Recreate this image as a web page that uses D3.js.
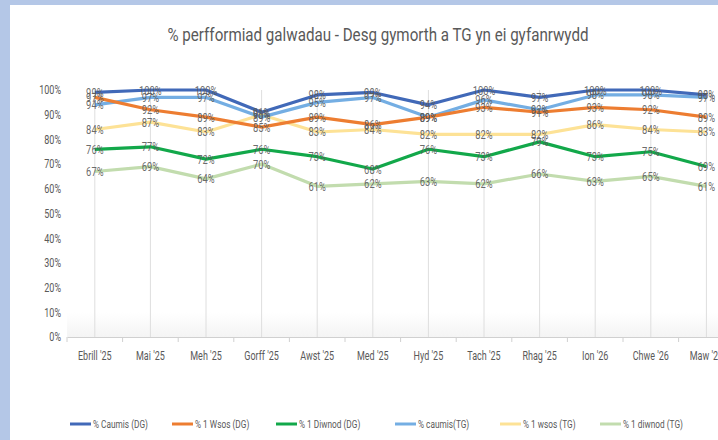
<!DOCTYPE html>
<html>
<head>
<meta charset="utf-8">
<script src="https://cdn.jsdelivr.net/npm/d3@7"></script>
<style>
  body { margin: 0; background: #fff; }
  svg text { font-family: Roboto, "Liberation Sans Narrow", sans-serif; }
</style>
</head>
<body>
<div id="chart"></div>
<script>
// data
var months = ["Ebrill '25", "Mai '25", "Meh '25", "Gorff '25", "Awst '25", "Med '25",
  "Hyd '25", "Tach '25", "Rhag '25", "Ion '26", "Chwe '26", "Maw '26"];
var seriesNames = ["% Caumis (DG)", "% 1 Wsos (DG)", "% 1 Diwnod (DG)",
  "% caumis(TG)", "% 1 wsos (TG)", "% 1 diwnod (TG)"];
var caumisDG  = [99, 100, 100, 91, 98, 99, 94, 100, 97, 100, 100, 98];
var wsosDG    = [97, 92, 89, 85, 89, 86, 89, 93, 91, 93, 92, 89];
var diwnodDG  = [76, 77, 72, 76, 73, 68, 76, 73, 79, 73, 75, 69];
var caumisTG  = [94, 97, 97, 89, 95, 97, 89, 96, 92, 98, 98, 97];
var wsosTG    = [84, 87, 83, 90, 83, 84, 82, 82, 82, 86, 84, 83];
var diwnodTG  = [67, 69, 64, 70, 61, 62, 63, 62, 66, 63, 65, 61];
var yTicks = [0, 10, 20, 30, 40, 50, 60, 70, 80, 90, 100];

var colors = ["#4169b8", "#ed7d31", "#12a84a", "#74aee3", "#fde296", "#c2dcae"];
var seriesVals = [caumisDG, wsosDG, diwnodDG, caumisTG, wsosTG, diwnodTG];
// draw light series first, then DG ones on top
var drawOrder = [5, 4, 3, 2, 1, 0];

var width = 718, height = 440;
var svg = d3.select("#chart").append("svg")
  .attr("width", width).attr("height", height);

// outer frame
svg.append("rect").attr("x", 0).attr("y", 0).attr("width", width).attr("height", height).attr("fill", "#b4c7e7");
svg.append("rect").attr("x", 10).attr("y", 5).attr("width", width - 10).attr("height", height - 5).attr("fill", "#fff");

var x = d3.scaleBand().domain(months).range([67, 67 + 12 * 55.6]);
var cx = function(m) { return x(m) + x.bandwidth() / 2; };
var y = d3.scaleLinear().domain([0, 100]).range([337, 90]);

// title
svg.append("text")
  .attr("x", 378).attr("y", 41)
  .attr("text-anchor", "middle")
  .attr("font-size", 18)
  .attr("fill", "#595959")
  .attr("textLength", 421)
  .attr("lengthAdjust", "spacingAndGlyphs")
  .text("% perfformiad galwadau - Desg gymorth a TG yn ei gyfanrwydd");

// plot background fade
var defs = svg.append("defs");
var grad = defs.append("linearGradient").attr("id", "bg").attr("x1", 0).attr("y1", 0).attr("x2", 0).attr("y2", 1);
grad.append("stop").attr("offset", "0.9").attr("stop-color", "#ffffff");
grad.append("stop").attr("offset", "1").attr("stop-color", "#f4f4f4");
svg.append("rect").attr("x", 67).attr("y", 90).attr("width", width - 67).attr("height", 247).attr("fill", "url(#bg)");

// vertical gridlines
svg.append("g").selectAll("line").data(months).enter().append("line")
  .attr("x1", function(d) { return cx(d); }).attr("x2", function(d) { return cx(d); })
  .attr("y1", y(100)).attr("y2", y(0))
  .attr("stroke", "#dedede").attr("stroke-width", 1);

// x axis
var xAxis = svg.append("g").attr("transform", "translate(0," + y(0) + ")")
  .call(d3.axisBottom(x).tickSize(0).tickPadding(14));
xAxis.select(".domain").attr("stroke", "#d0d0d0");
xAxis.selectAll("text").attr("font-size", 12.5).attr("fill", "#595959")
  .attr("transform", "scale(0.72,1)");
svg.append("g").selectAll("line").data(months).enter().append("line")
  .attr("x1", function(d) { return x(d); }).attr("x2", function(d) { return x(d); })
  .attr("y1", y(0)).attr("y2", y(0) + 5)
  .attr("stroke", "#d0d0d0");

// y axis
var yAxis = svg.append("g").attr("transform", "translate(67,0)")
  .call(d3.axisLeft(y).tickValues(yTicks).tickSize(0).tickPadding(6)
    .tickFormat(function(d) { return d + "%"; }));
yAxis.select(".domain").remove();
yAxis.selectAll("text").attr("font-size", 12).attr("fill", "#595959")
  .attr("transform", "translate(-6,0) scale(0.75,1)").attr("x", 0);

// lines
var line = d3.line()
  .x(function(d, i) { return cx(months[i]); })
  .y(function(d) { return y(d); });

drawOrder.forEach(function(s) {
  svg.append("path")
    .datum(seriesVals[s])
    .attr("d", line)
    .attr("fill", "none")
    .attr("stroke", colors[s])
    .attr("stroke-width", 3.2)
    .attr("stroke-linejoin", "round");
});

// data labels
drawOrder.forEach(function(s) {
  svg.append("g").selectAll("text").data(seriesVals[s]).enter().append("text")
    .attr("transform", function(d, i) { return "translate(" + cx(months[i]) + "," + (y(d) + 4.5) + ") scale(0.72,1)"; })
    .attr("text-anchor", "middle")
    .attr("font-size", 13)
    .attr("fill", "#595959")
    .attr("fill-opacity", 0.9)
    .text(function(d) { return d + "%"; });
});

// legend
var legendX = [70, 172, 276, 395, 500, 600];
var lg = svg.append("g").selectAll("g").data(seriesNames).enter().append("g")
  .attr("transform", function(d, i) { return "translate(" + legendX[i] + ",424)"; });
lg.append("line").attr("x1", 0).attr("x2", 21).attr("y1", 0).attr("y2", 0)
  .attr("stroke", function(d, i) { return colors[i]; }).attr("stroke-width", 3);
lg.append("text").attr("transform", "translate(23,4) scale(0.72,1)")
  .attr("font-size", 11.5).attr("fill", "#595959")
  .text(function(d) { return d; });
</script>
</body>
</html>
